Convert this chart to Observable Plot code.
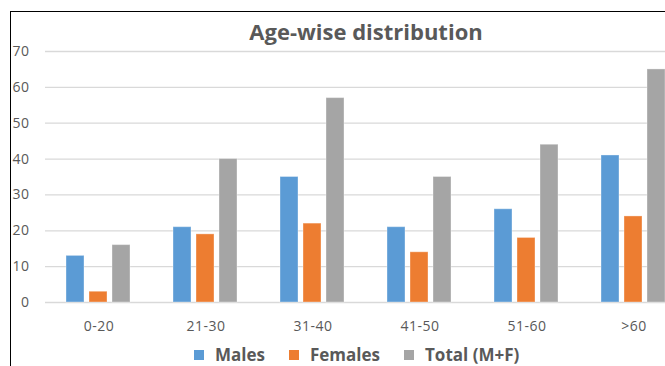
<!DOCTYPE html>
<html>
<head>
<meta charset="utf-8">
<script src="https://cdn.jsdelivr.net/npm/d3@7"></script>
<script src="https://cdn.jsdelivr.net/npm/@observablehq/plot@0.6"></script>
<style>
  html, body { margin: 0; padding: 0; background: #fff; overflow: hidden; width: 665px; height: 366px; }
  #frame { position: absolute; left: 10px; top: 11px; width: 700px; height: 400px; border-top: 1.5px solid #000; border-left: 1.5px solid #000; }
  #title { position: absolute; left: 0; width: 732px; top: 16px; text-align: center; font-family: "Open Sans", sans-serif; font-weight: 700; font-size: 22px; line-height: 30px; color: #595959; }
  #chart { position: absolute; left: 0; top: 0; width: 700px; }
  #chart svg { max-width: none !important; }
  #legend { position: absolute; top: 344px; left: 194px; font-family: "Open Sans", sans-serif; font-weight: 700; font-size: 17px; line-height: 22px; color: #595959; display: flex; gap: 24px; white-space: nowrap; }
  #legend span.item { display: flex; align-items: center; }
  #legend span.sw { display: inline-block; width: 10px; height: 10px; margin-right: 11px; }
</style>
</head>
<body>
<div id="frame"></div>
<div id="chart"></div>
<div id="title">Age-wise distribution</div>
<div id="legend"></div>
<script>
const categories = ["0-20", "21-30", "31-40", "41-50", "51-60", ">60"];
const seriesNames = ["Males", "Females", "Total (M+F)"];
const males = [13, 21, 35, 21, 26, 41];
const females = [3, 19, 22, 14, 18, 24];
const totals = [16, 40, 57, 35, 44, 65];
const colors = ["#5B9BD5", "#ED7D31", "#A5A5A5"];
const yTicks = [0, 10, 20, 30, 40, 50, 60, 70];

const seriesValues = [males, females, totals];
const data = [];
categories.forEach((c, i) => {
  seriesNames.forEach((s, j) => data.push({age: c, series: s, value: seriesValues[j][i]}));
});

const plot = Plot.plot({
  width: 688,
  height: 340,
  marginLeft: 44,
  marginRight: 0,
  marginTop: 51,
  marginBottom: 38,
  style: {fontFamily: "'Open Sans', sans-serif", fontSize: "14px", letterSpacing: "0.5px", color: "#595959", background: "transparent", maxWidth: "none"},
  fx: {domain: categories, padding: 0, axis: "bottom", tickSize: 0, tickPadding: 19, label: null},
  x: {domain: seriesNames, axis: null, paddingInner: 0.208, paddingOuter: 0.837},
  y: {domain: [0, 70], ticks: yTicks, tickSize: 0, tickPadding: 16, label: null},
  color: {domain: seriesNames, range: colors},
  marks: [
    Plot.ruleY(yTicks, {stroke: "#d9d9d9", strokeWidth: 1.3}),
    Plot.barY(data, {fx: "age", x: "series", y: "value", fill: "series", stroke: "#ffffff", strokeOpacity: 0.35, strokeWidth: 1})
  ]
});
document.getElementById("chart").appendChild(plot);

const legend = document.getElementById("legend");
seriesNames.forEach((s, j) => {
  const item = document.createElement("span");
  item.className = "item";
  const sw = document.createElement("span");
  sw.className = "sw";
  sw.style.background = colors[j];
  item.appendChild(sw);
  item.appendChild(document.createTextNode(s));
  legend.appendChild(item);
});
</script>
</body>
</html>
